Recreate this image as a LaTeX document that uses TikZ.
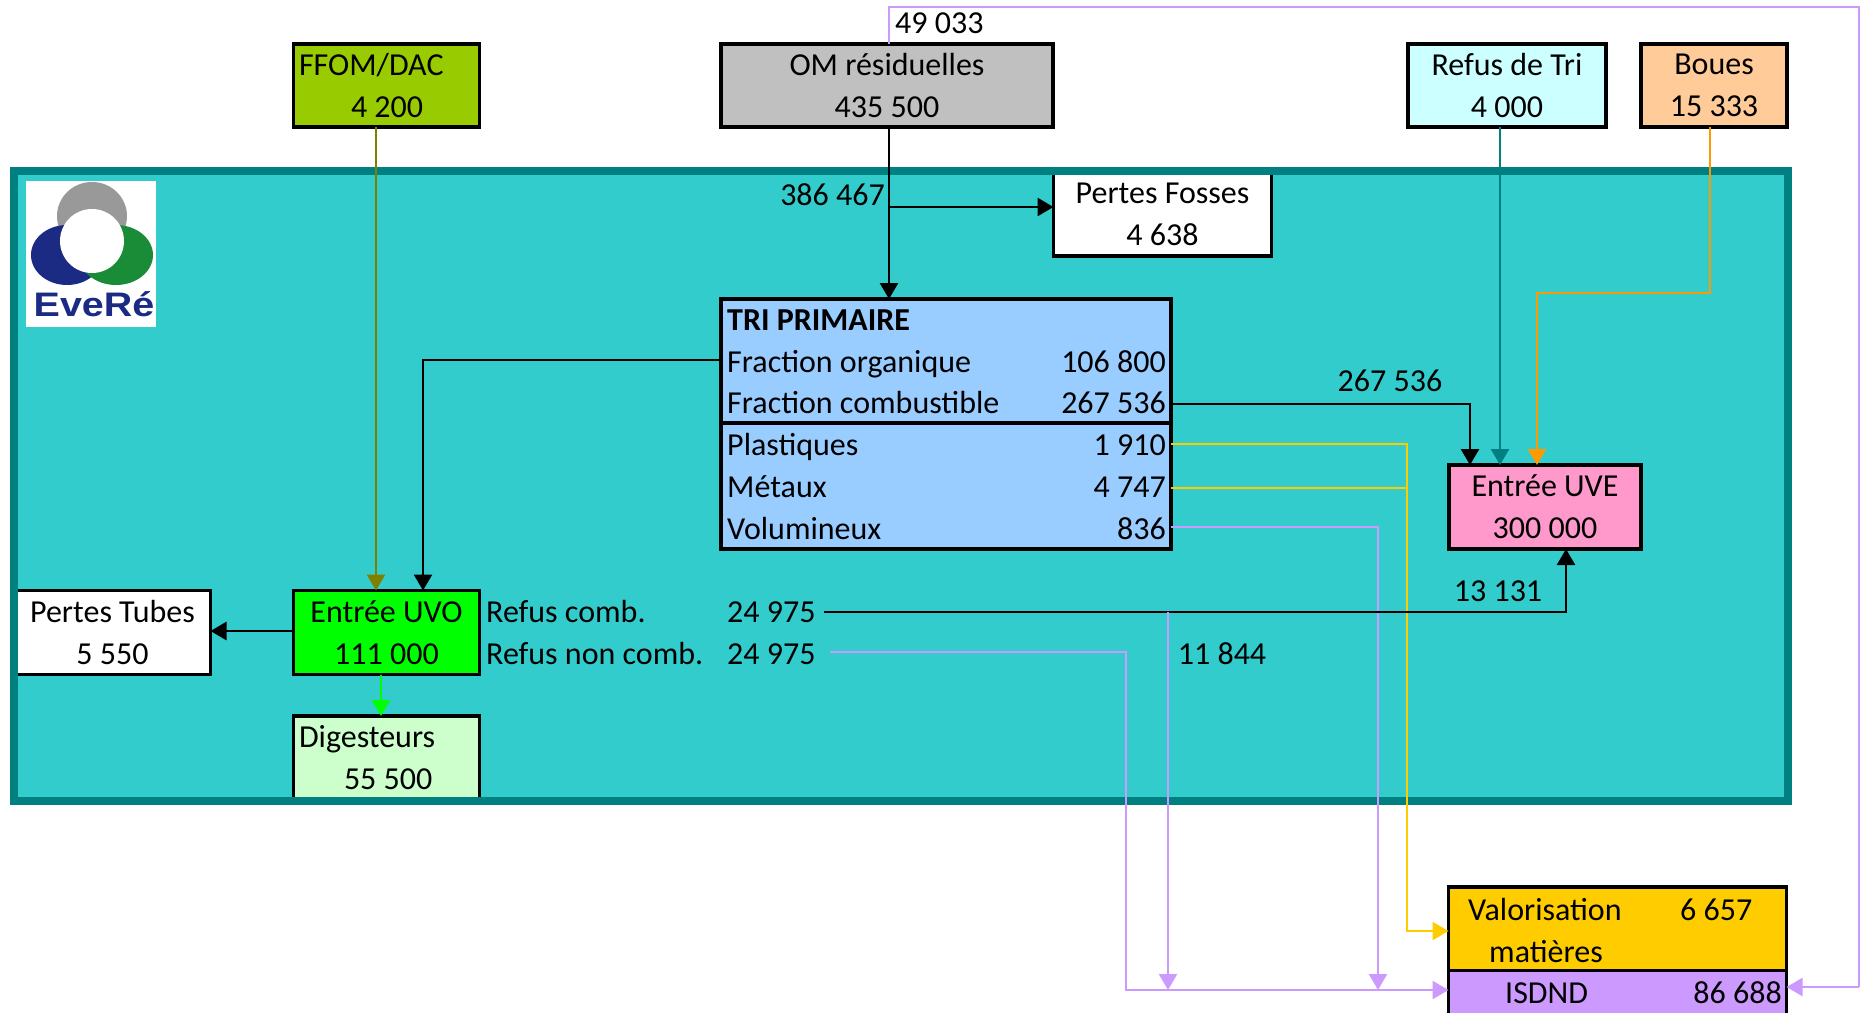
\documentclass[tikz,border=0pt]{standalone}
\usepackage{fontspec}
\setmainfont{Carlito}
\newfontfamily\logofont[FakeStretch=1.16]{Liberation Sans}
\usetikzlibrary{arrows.meta,positioning,calc}
\definecolor{zonefill}{HTML}{33CCCC}
\definecolor{zoneline}{HTML}{008080}
\definecolor{ffomc}{HTML}{99CC00}
\definecolor{omc}{HTML}{C0C0C0}
\definecolor{refusc}{HTML}{CCFFFF}
\definecolor{bouesc}{HTML}{FFCC99}
\definecolor{tric}{HTML}{99CCFF}
\definecolor{uvec}{HTML}{FF99CC}
\definecolor{uvoc}{HTML}{00FF00}
\definecolor{digc}{HTML}{CCFFCC}
\definecolor{valoc}{HTML}{FFCC00}
\definecolor{isdc}{HTML}{CC99FF}
\definecolor{orangel}{HTML}{FF9900}
\definecolor{olivel}{HTML}{808000}
\definecolor{logoblue}{HTML}{1B2A82}
\definecolor{logogreen}{HTML}{1A8C38}
\newcommand{\txt}{\fontsize{32}{42}\selectfont}
\tikzset{
  cell/.style={rectangle,draw=black,line width=3.2pt,inner sep=0pt,outer sep=0pt,font=\txt,align=center},
  wh/.style 2 args={minimum width=#1pt,minimum height=#2pt},
  lab/.style={font=\txt,inner sep=0pt},
  flow/.style={line width=2.7pt,-{Triangle[length=16pt,width=18pt]}},
  flowk/.style={flow,black},
  flowp/.style={flow,line width=2.2pt,isdc},
  flowy/.style={flow,line width=2.2pt,valoc}
}
\begin{document}
\begin{tikzpicture}[x=1pt,y=-1pt]
  \useasboundingbox (0,0) rectangle (1867,1012);
  % zone
  \node[rectangle,fill=zonefill,draw=none,inner sep=0pt,outer sep=0pt,wh={1774}{630}] (zone) at (901,486) {};

  % top entries
  \node[cell,fill=ffomc,wh={186}{83},align=flush left,text width=175pt] (ffom) at (386.5,85.5) {FFOM/DAC\\\hspace*{52pt}4 200};
  \node[cell,fill=omc,wh={332}{83}] (om) at (887,85.5) {OM résiduelles\\435 500};
  \node[cell,fill=refusc,wh={198}{83}] (refus) at (1507,85.5) {Refus de Tri\\4 000};
  \node[cell,fill=bouesc,wh={146}{83}] (boues) at (1714,85.5) {Boues\\15 333};

  % boxes in the zone
  \node[cell,fill=white,wh={218}{84}] (fosses) at (1162.5,214) {Pertes Fosses\\4 638};
  \node[cell,fill=tric,wh={450}{250}] (tri) at (946,424) {};
  \draw[line width=3.2pt] (tri.west |- 0,423) -- (tri.east |- 0,423);
  \node[cell,fill=uvec,wh={192}{84}] (uve) at (1545,507) {Entrée UVE\\300 000};
  \node[cell,fill=uvoc,wh={186}{84}] (uvo) at (386.5,632.5) {Entrée UVO\\111 000};
  \node[cell,fill=white,wh={196}{84}] (tubes) at (112.5,632.5) {Pertes Tubes\\5 550};
  \node[cell,fill=digc,wh={186}{84},align=flush left,text width=175pt] (dig) at (386.5,758) {Digesteurs\\\hspace*{45pt}55 500};
  \draw[zoneline,line width=8pt] (zone.north west) rectangle (zone.south east);

  % outlets
  \node[cell,fill=valoc,wh={338}{84}] (valo) at (1617.5,929) {};
  \node[cell,fill=isdc,wh={338}{45}] (isd) at (1617.5,993) {};

  % logo
  \fill[white] (26,181) rectangle (156,327);
  \fill[gray!80] (92,216) ellipse (35 and 34);
  \fill[logoblue] (67,255) ellipse (36 and 30);
  \fill[logogreen] (116,255) ellipse (37 and 30);
  \fill[white] (92,241) circle (32);
  \node[inner sep=0pt,anchor=base,font=\logofont\bfseries\fontsize{34}{34}\selectfont,text=logoblue] (logo) at (94,316) {EveRé};

  % tri rows
  \node[lab,anchor=base west,font=\txt\bfseries] (ltri) at (727,330) {TRI PRIMAIRE};
  \node[lab,anchor=base west] (lorg) at (727,372) {Fraction organique};
  \node[lab,anchor=base west] (lcomb) at (727,413) {Fraction combustible};
  \node[lab,anchor=base west] (lplast) at (727,455) {Plastiques};
  \node[lab,anchor=base west] (lmet) at (727,497) {Métaux};
  \node[lab,anchor=base west] (lvol) at (727,539) {Volumineux};
  \node[lab,anchor=base east] (vorg) at (1166,372) {106 800};
  \node[lab,anchor=base east] (vcomb) at (1166,413) {267 536};
  \node[lab,anchor=base east] (vplast) at (1166,455) {1 910};
  \node[lab,anchor=base east] (vmet) at (1166,497) {4 747};
  \node[lab,anchor=base east] (vvol) at (1166,539) {836};

  % outlet texts
  \node[lab,anchor=base west] (lvalo) at (1468,920) {Valorisation};
  \node[lab,anchor=base west] (vvalo) at (1680,920) {6 657};
  \node[lab,anchor=base west] (lmat) at (1489,962) {matières};
  \node[lab,anchor=base west] (lisd) at (1505,1003) {ISDND};
  \node[lab,anchor=base east] (visd) at (1782,1003) {86 688};

  % refus of UVO
  \node[lab,anchor=base west] (lrc) at (486,622) {Refus comb.};
  \node[lab,anchor=base west] (vrc) at (727,622) {24 975};
  \node[lab,anchor=base west] (lrn) at (486,664) {Refus non comb.};
  \node[lab,anchor=base west] (vrn) at (727,664) {24 975};

  % values on the flows
  \node[lab,anchor=base west] (v49) at (895,33) {49 033};
  \node[lab,anchor=base east] (v386) at (885,205) {386 467};
  \node[lab,anchor=base] (v267) at (1390,391) {267 536};
  \node[lab,anchor=base] (v13) at (1498,601) {13 131};
  \node[lab,anchor=base] (v11) at (1222,664) {11 844};

  % corners
  \coordinate (j49) at (889,7);
  \coordinate (r49) at (1859,7);
  \coordinate (jom) at (889,207);
  \coordinate (jrc) at (1168,612);

  % flows
  \draw[flow,olivel] (ffom.south -| 376,0) -- (uvo.north -| 376,0);
  \draw[flowk] (om.south -| jom) -- (tri.north -| jom);
  \draw[flowk] (jom) -- (jom -| fosses.west);
  \draw[isdc,line width=2.2pt] (om.north -| j49) -- (j49) -- (r49) -- (r49 |- 0,987);
  \draw[flowp] (r49 |- 0,987) -- (isd.east |- 0,987);
  \draw[flowk] (tri.west |- 0,360) -| (423,0 |- uvo.north);
  \draw[flowk] (tri.east |- 0,404) -| (1470,0 |- uve.north);
  \draw[flow,zoneline] (refus.south -| 1500,0) -- (uve.north -| 1500,0);
  \draw[flow,orangel] (boues.south -| 1710,0) |- (1537,293) -- (uve.north -| 1537,0);
  \draw[flowy] (tri.east |- 0,444) -| (1407,931) -- (valo.west |- 0,931);
  \draw[valoc,line width=2.2pt] (tri.east |- 0,488) -- (1407,488);
  \draw[flowp] (tri.east |- 0,527) -| (1378,990);
  \draw[flowk] (824,612) -| (1566,0 |- uve.south);
  \draw[flowp] (jrc) -- (1168,990);
  \draw[flowp] (830,652) -| (1126,990) -- (isd.west |- 0,990);
  \draw[flowk] (uvo.west |- 0,631) -- (tubes.east |- 0,631);
  \draw[flow,uvoc] (uvo.south -| 381,0) -- (dig.north -| 381,0);
\end{tikzpicture}
\end{document}
